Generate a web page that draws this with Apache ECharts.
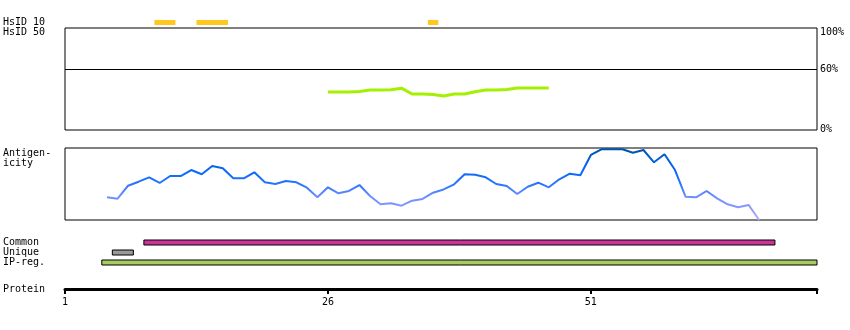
<!DOCTYPE html>
<html>
<head>
<meta charset="utf-8">
<script src="https://cdn.jsdelivr.net/npm/echarts@6/dist/echarts.min.js"></script>
<style>
html,body{margin:0;padding:0;background:#fff;}
#chart{width:850px;height:330px;}
</style>
</head>
<body>
<div id="chart"></div>
<script>
// ---- data ----
const proteinTicks = [1, 26, 51];
const proteinLength = 72;

// HsID 10 identity segments (residue start, residue end)
const hsid10Starts = [10, 14, 36];
const hsid10Ends = [11, 16, 36];

// HsID 50 identity (%) from residue 26 to 47
const hsid50Start = 26;
const hsid50Values = [37.3, 37.3, 37.3, 37.8, 39.2, 39.2, 39.5, 41, 35.3, 35.3, 34.8,
  33.3, 35.3, 35.3, 37.5, 39.2, 39.2, 39.7, 41.2, 41.2, 41.2, 41.2];

// Antigenicity (relative score 0-100) from residue 5 to 67
const antigenStart = 5;
const antigenValues = [31.5, 29.6, 47.6, 53.2, 59.3, 51.4, 61.1, 61.1, 69.4, 63.5, 75, 71.8,
  57.9, 57.9, 66.3, 52.4, 50, 54.2, 52.4, 44.9, 31.5, 45.4, 37.1, 40.3, 48.6, 33.3, 21.8,
  23.2, 19.9, 26.8, 29.2, 37.9, 42.4, 49.6, 63.5, 62.9, 59.3, 50, 47.2, 36.1, 46.2, 51.8,
  45.4, 56.5, 64.3, 62.1, 90.3, 98.2, 98.2, 98.2, 93.5, 97.2, 80.1, 91.3, 69.4, 32.4, 31.5,
  40.3, 30.1, 21.8, 17.6, 20.8, 0];

// Feature regions
const featureNames = ['Common', 'Unique', 'IP-reg.'];
const featureStarts = [9, 6, 5];
const featureEnds = [68, 7, 72];

// ---- styles ----
const FONT = '10px "DejaVu Sans Mono"';
const featureColors = ['#cc3399', '#999999', '#a8cc60'];
const X_MIN = 1, X_MAX = proteinLength + 0.5;
const GL = 65, GW = 752;

const chart = echarts.init(document.getElementById('chart'), null, {renderer: 'canvas'});

function hiddenX(i) {
  return {gridIndex: i, type: 'value', min: X_MIN, max: X_MAX, show: false};
}

const rectRender = (h, stroke) => function (params, api) {
  const s = api.value(0), e = api.value(1), row = api.value(2);
  const p0 = api.coord([s - 0.5, row]);
  const p1 = api.coord([e + 0.5, row]);
  return {
    type: 'rect',
    shape: {x: p0[0], y: p0[1] - h / 2, width: p1[0] - p0[0], height: h},
    style: {fill: api.visual('color'), stroke: stroke, lineWidth: stroke ? 1 : 0}
  };
};

const option = {
  animation: false,
  grid: [
    {left: GL, width: GW, top: 20, height: 5},
    {left: GL, width: GW, top: 28, height: 102, show: true, borderColor: '#000', borderWidth: 1, backgroundColor: 'transparent'},
    {left: GL, width: GW, top: 148, height: 72, show: true, borderColor: '#000', borderWidth: 1, backgroundColor: 'transparent'},
    {left: GL, width: GW, top: 237.5, height: 30},
    {left: GL, width: GW, top: 280, height: 9}
  ],
  xAxis: [
    hiddenX(0), hiddenX(1), hiddenX(2), hiddenX(3),
    {
      gridIndex: 4, type: 'value', min: X_MIN, max: X_MAX, position: 'bottom',
      axisLine: {show: true, lineStyle: {color: '#000', width: 3}},
      axisTick: {show: true, customValues: proteinTicks.concat([X_MAX]), length: 5, lineStyle: {color: '#000', width: 2}},
      axisLabel: {customValues: proteinTicks, color: '#000', fontFamily: 'DejaVu Sans Mono', fontSize: 10, margin: 8},
      splitLine: {show: false}
    }
  ],
  yAxis: [
    {gridIndex: 0, type: 'value', min: 0, max: 1, show: false},
    {
      gridIndex: 1, type: 'value', min: 0, max: 100, interval: 20, position: 'right',
      axisLine: {show: false}, axisTick: {show: false}, splitLine: {show: false},
      axisLabel: {
        margin: 3, color: '#000', fontFamily: 'DejaVu Sans Mono', fontSize: 10,
        showMinLabel: true, showMaxLabel: true,
        formatter: v => v === 100 ? '{hi|100%}' : v === 60 ? '{mid|60%}' : v === 0 ? '{lo|0%}' : '',
        rich: {
          hi: {padding: [8, 0, 0, 0], fontFamily: 'DejaVu Sans Mono', fontSize: 10, color: '#000'},
          mid: {padding: [2, 0, 0, 0], fontFamily: 'DejaVu Sans Mono', fontSize: 10, color: '#000'},
          lo: {padding: [0, 0, 2, 0], fontFamily: 'DejaVu Sans Mono', fontSize: 10, color: '#000'}
        }
      }
    },
    {gridIndex: 2, type: 'value', min: 0, max: 100, show: false},
    {gridIndex: 3, type: 'value', min: 0, max: 3, inverse: true, show: false},
    {gridIndex: 4, type: 'value', min: 0, max: 1, show: false}
  ],
  visualMap: [{
    type: 'continuous', show: false, seriesIndex: 2, dimension: 1, min: 0, max: 100,
    inRange: {color: ['#b8a8ff', '#8c98ff', '#6a8cff', '#2a74ff', '#0a68ff', '#0060e0', '#0050a0']}
  }],
  series: [
    {
      type: 'custom', xAxisIndex: 0, yAxisIndex: 0,
      itemStyle: {color: '#ffc820'},
      renderItem: function (params, api) {
        const p0 = api.coord([api.value(0) - 0.5, 1]);
        const p1 = api.coord([api.value(1) + 0.5, 0]);
        return {type: 'rect', shape: {x: p0[0], y: p0[1], width: p1[0] - p0[0], height: p1[1] - p0[1]},
          style: {fill: '#ffc820'}};
      },
      data: hsid10Starts.map((s, i) => [s, hsid10Ends[i]])
    },
    {
      type: 'line', xAxisIndex: 1, yAxisIndex: 1, symbol: 'none',
      lineStyle: {color: '#a4f000', width: 3}, itemStyle: {color: '#a4f000'},
      data: hsid50Values.map((v, i) => [hsid50Start + i, v]),
      markLine: {
        silent: true, symbol: 'none', label: {show: false},
        lineStyle: {color: '#000', width: 1, type: 'solid'},
        data: [{yAxis: 60}]
      }
    },
    {
      type: 'line', xAxisIndex: 2, yAxisIndex: 2, symbol: 'none',
      lineStyle: {width: 2},
      data: antigenValues.map((v, i) => [antigenStart + i, v])
    },
    {
      type: 'custom', xAxisIndex: 3, yAxisIndex: 3,
      renderItem: rectRender(5, '#000'),
      data: featureNames.map((n, i) => ({
        name: n, value: [featureStarts[i], featureEnds[i], i + 0.5],
        itemStyle: {color: featureColors[i]}
      }))
    }
  ],
  graphic: [
    ['HsID 10', 22.5], ['HsID 50', 32.5], ['Antigen-', 153.5], ['icity', 163.5],
    ['Common', 242.5], ['Unique', 252.5], ['IP-reg.', 262.5], ['Protein', 289]
  ].map(([t, y]) => ({
    type: 'text', x: 3, y: y,
    style: {text: t, font: FONT, fill: '#000', verticalAlign: 'middle', align: 'left'}
  }))
};

chart.setOption(option);
</script>
</body>
</html>
